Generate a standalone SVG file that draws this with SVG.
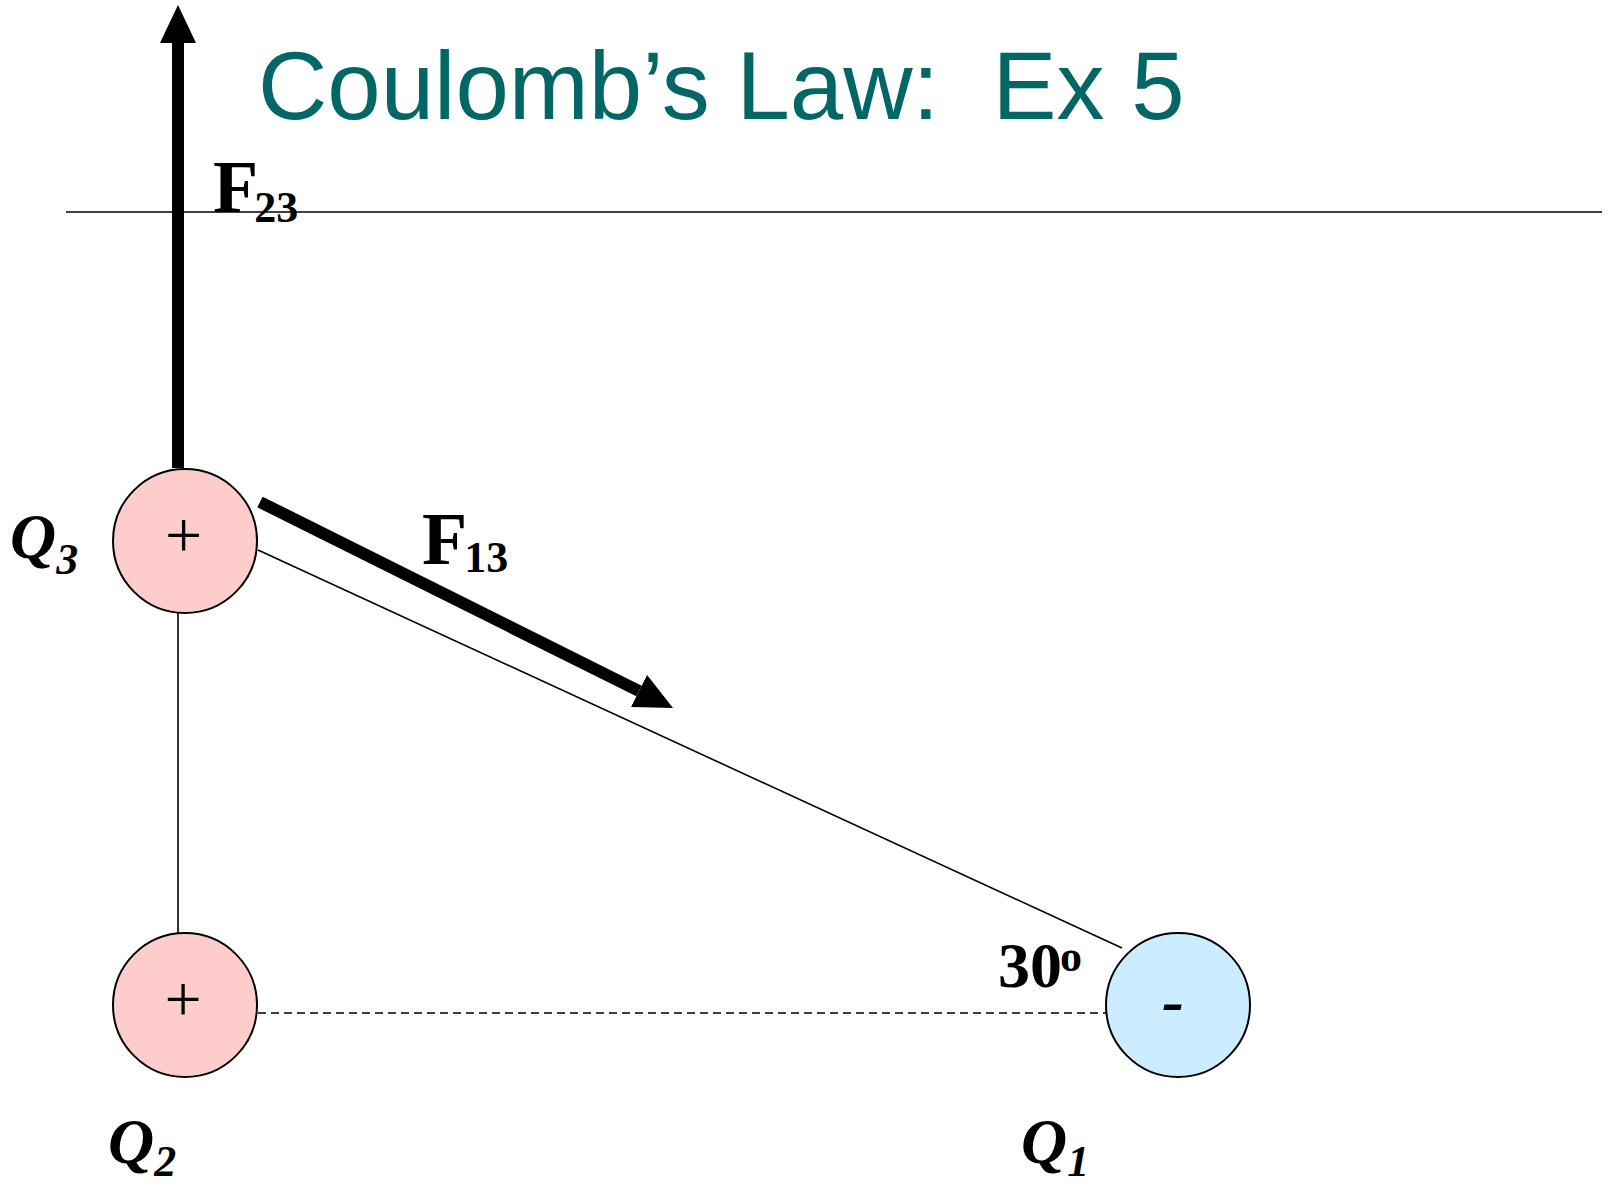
<svg xmlns="http://www.w3.org/2000/svg" width="1615" height="1183" viewBox="0 0 1615 1183">
<style>
.title{font-family:"Liberation Sans",Arial,sans-serif;font-size:96px;fill:#006666;white-space:pre}
.lbl{font-family:"Liberation Serif","Times New Roman",serif;font-weight:bold;fill:#000}
.q{font-style:italic;font-size:64px}
.f{font-size:74px}
.sub{font-size:44px}
.sign{font-family:"Liberation Serif","Times New Roman",serif;font-size:66px;text-anchor:middle;fill:#000}
.thin{stroke:#000;stroke-width:1.6;fill:none}
.force{stroke:#000;stroke-width:12;fill:none;marker-end:url(#ah)}
.pos{fill:#FFCCCC;stroke:#000;stroke-width:2}
.neg{fill:#CCECFF;stroke:#000;stroke-width:2}
</style>
<defs>
<marker id="ah" markerUnits="userSpaceOnUse" markerWidth="38" markerHeight="36" refX="0" refY="18" orient="auto" viewBox="0 0 38 36">
<path d="M0,0 L38,18 L0,36 z" fill="#000"/>
</marker>
</defs>
<rect width="1615" height="1183" fill="#fff"/>
<text class="title" x="258" y="119" xml:space="preserve">Coulomb’s Law:  Ex 5</text>
<g id="connectors">
<line class="thin" x1="66" y1="212" x2="1602" y2="212" stroke-width="2"/>
<line class="thin" x1="178" y1="613" x2="178" y2="933"/>
<line class="thin" x1="258" y1="550" x2="1122" y2="948"/>
<line class="thin" x1="258" y1="1013" x2="1106" y2="1013" stroke-dasharray="8,5"/>
<line id="F23-arrow" class="force" x1="178" y1="468" x2="178" y2="43"/>
<line id="F13-arrow" class="force" x1="260" y1="502" x2="639" y2="691"/>
</g>
<g id="Q3">
<circle class="pos" cx="185" cy="541" r="72"/>
<text class="sign" x="183.5" y="557">+</text>
<text class="lbl q" x="10" y="558">Q<tspan class="sub" dy="16">3</tspan></text>
</g>
<g id="Q2">
<circle class="pos" cx="185" cy="1005" r="72"/>
<text class="sign" x="183" y="1021">+</text>
<text class="lbl q" x="108" y="1163">Q<tspan class="sub" dy="13">2</tspan></text>
</g>
<g id="Q1">
<circle class="neg" cx="1178" cy="1005" r="72"/>
<text class="sign" x="1173" y="1023" font-weight="bold" font-style="italic" font-size="74">-</text>
<text class="lbl q" x="1021" y="1163">Q<tspan class="sub" dy="13">1</tspan></text>
</g>
<g id="F23">
<text class="lbl f" x="213" y="212">F<tspan class="sub" dx="-4" dy="10">23</tspan></text>
</g>
<g id="F13">
<text class="lbl f" x="422" y="564">F<tspan class="sub" dx="-3" dy="8">13</tspan></text>
</g>
<g id="angle">
<text class="lbl" x="998" y="987" font-size="64">30<tspan font-size="44" dx="-2" dy="-16">o</tspan></text>
</g>
</svg>
